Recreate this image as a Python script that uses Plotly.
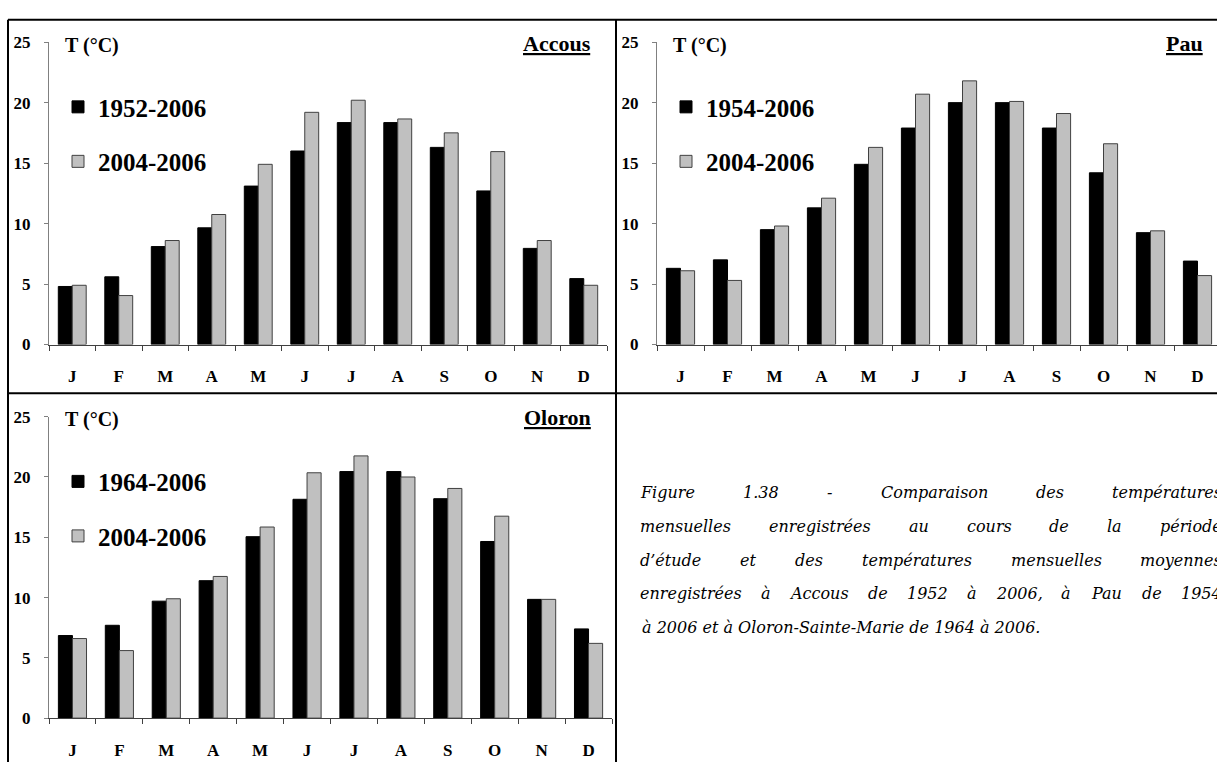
import unicodedata
import plotly.graph_objects as go

W, H = 1217, 772

mois = list(range(12))
lettres_mois = ['J', 'F', 'M', 'A', 'M', 'J', 'J', 'A', 'S', 'O', 'N', 'D']
graduations_y = [0, 5, 10, 15, 20, 25]

stations = ['Accous', 'Pau', 'Oloron']
periodes = ['1952-2006', '1954-2006', '1964-2006']
periode_etude = '2004-2006'

accous_moy = [4.8, 5.6, 8.1, 9.65, 13.1, 16.0, 18.35, 18.35, 16.3, 12.7, 7.95, 5.45]
accous_etude = [4.9, 4.05, 8.6, 10.75, 14.9, 19.2, 20.2, 18.65, 17.5, 15.95, 8.6, 4.9]
pau_moy = [6.3, 7.0, 9.5, 11.3, 14.9, 17.9, 20.0, 20.0, 17.9, 14.2, 9.25, 6.9]
pau_etude = [6.1, 5.3, 9.8, 12.1, 16.3, 20.7, 21.8, 20.1, 19.1, 16.6, 9.4, 5.7]
oloron_moy = [6.85, 7.7, 9.7, 11.4, 15.05, 18.15, 20.45, 20.45, 18.2, 14.65, 9.85, 7.4]
oloron_etude = [6.6, 5.6, 9.9, 11.75, 15.85, 20.35, 21.75, 20.0, 19.05, 16.75, 9.85, 6.2]

legende = [
    "Figure 1.38 - Comparaison des températures",
    "mensuelles enregistrées au cours de la période",
    "d’étude et des températures mensuelles moyennes",
    "enregistrées à Accous de 1952 à 2006, à Pau de 1954",
    "à 2006 et à Oloron-Sainte-Marie de 1964 à 2006.",
]

series_moy = [accous_moy, pau_moy, oloron_moy]
series_etude = [accous_etude, pau_etude, oloron_etude]


def px(x):
    return x / W


def py(y):
    return 1 - y / H


# cadres des graphiques en pixels : gauche, droite, haut (25 °C), bas (0 °C)
cadres = [
    dict(g=49, d=607, h=34, b=344, xmax=11.5),
    dict(g=657, d=1217, h=34, b=344, xmax=-0.5 + 560 / 47),
    dict(g=49, d=612, h=418, b=727, xmax=11.5),
]
titres_x = [593, 1205, 593]

police = 'Liberation Serif'

fig = go.Figure()
annotations = []

for i, station in enumerate(stations):
    suf = '' if i == 0 else str(i + 1)
    leg = 'legend' + suf
    c = cadres[i]

    fig.add_trace(go.Bar(x=mois, y=series_moy[i], name=periodes[i],
                         marker=dict(color='black', line=dict(color='black', width=1)),
                         xaxis='x' + suf, yaxis='y' + suf, legend=leg, legendgroup='a' + suf))
    fig.add_trace(go.Bar(x=mois, y=series_etude[i], name=periode_etude,
                         marker=dict(color='#c0c0c0', line=dict(color='#404040', width=1)),
                         xaxis='x' + suf, yaxis='y' + suf, legend=leg, legendgroup='b' + suf))

    fig.update_layout({
        'xaxis' + suf: dict(domain=[px(c['g']), px(c['d'])], range=[-0.5, c['xmax']],
                            anchor='y' + suf, tickmode='array', tickvals=mois, ticktext=lettres_mois,
                            ticks='', showline=True, linecolor='#404040', linewidth=1,
                            minor=dict(tickmode='linear', tick0=-0.5, dtick=1, ticks='outside',
                                       ticklen=5, tickcolor='#404040', tickwidth=1),
                            tickfont=dict(family=police, size=17, color='black', weight='bold'),
                            ticklabelstandoff=16, showgrid=False, zeroline=False, fixedrange=True),
        'yaxis' + suf: dict(domain=[py(c['b']), py(c['h'])], range=[0, 25], anchor='x' + suf,
                            tickmode='array', tickvals=graduations_y, ticks='outside', ticklen=4,
                            tickcolor='#808080', showline=True, linecolor='#808080', linewidth=1,
                            tickfont=dict(family=police, size=17, color='black', weight='bold'),
                            ticklabelstandoff=10, showgrid=False, zeroline=False, fixedrange=True),
        leg: dict(x=px(c['g'] + 9), y=py(c['h'] + 43), xanchor='left', yanchor='top',
                  bgcolor='rgba(0,0,0,0)', tracegroupgap=19,
                  font=dict(family=police, size=25, color='black', weight='bold')),
    })

    annotations.append(dict(x=px(c['g'] + 14), y=py(c['h'] + 3), xref='paper', yref='paper',
                            text='T (°C)', showarrow=False, xanchor='left', yanchor='middle',
                            font=dict(family=police, size=20, color='black', weight='bold')))
    annotations.append(dict(x=px(titres_x[i]), y=py(c['h'] + 1), xref='paper', yref='paper',
                            text='<u>' + station + '</u>', showarrow=False, xanchor='right',
                            yanchor='middle',
                            font=dict(family=police, size=22, color='black', weight='bold')))

# texte de la légende de figure, justifié
largeurs = dict(a=0.596, b=0.640, c=0.560, d=0.640, e=0.592, f=0.370, g=0.640, h=0.644,
                i=0.320, j=0.320, k=0.600, l=0.320, m=0.948, n=0.644, o=0.602, p=0.640,
                q=0.640, r=0.478, s=0.513, t=0.402, u=0.644, v=0.565, w=0.832, x=0.564,
                y=0.565, z=0.527)


def largeur_mot(mot, taille):
    total = 0
    for ch in mot:
        base = unicodedata.normalize('NFD', ch)[0]
        if base in largeurs:
            total += largeurs[base]
        elif base.isdigit():
            total += 0.636
        elif base.isupper():
            total += 0.74
        elif base == '-':
            total += 0.338
        else:
            total += 0.318
    return total * taille


taille_leg = 16
police_leg = dict(family='DejaVu Serif', size=taille_leg, color='black', style='italic')
gauche, droite = 640, 1222
lignes_y = [496, 530.5, 565, 599.5, 634]

for k, ligne in enumerate(legende):
    if k == len(legende) - 1:
        annotations.append(dict(x=px(gauche), y=py(lignes_y[k]), xref='paper', yref='paper',
                                text=ligne, showarrow=False, xanchor='left', yanchor='middle',
                                font=police_leg))
        continue
    mots = ligne.split(' ')
    larg = [largeur_mot(m, taille_leg) for m in mots]
    espace = (droite - gauche - sum(larg)) / (len(mots) - 1)
    pos = gauche
    for m, l in zip(mots, larg):
        annotations.append(dict(x=px(pos + l / 2), y=py(lignes_y[k]), xref='paper', yref='paper',
                                text=m, showarrow=False, xanchor='center', yanchor='middle',
                                font=police_leg))
        pos += l + espace

# cadres noirs
traits = [(8, 11, 1217, 11), (8, 11, 8, 772), (616, 11, 616, 772), (8, 394, 1217, 394)]
shapes = [dict(type='line', xref='paper', yref='paper', x0=px(a), y0=py(b), x1=px(c2), y1=py(d),
               line=dict(color='black', width=2)) for a, b, c2, d in traits]

fig.update_layout(width=W, height=H, margin=dict(l=0, r=0, t=0, b=0),
                  paper_bgcolor='white', plot_bgcolor='white',
                  barmode='group', bargap=0.4, bargroupgap=0,
                  showlegend=True, annotations=annotations, shapes=shapes)

# page exactement à la taille du graphique
page = ("var s='margin:0;padding:0;overflow:hidden;width:1217px;height:772px';"
        "document.documentElement.style.cssText=s;document.body.style.cssText=s;"
        "var d=document.getElementById('{plot_id}');"
        "d.style.position='absolute';d.style.left='0px';d.style.top='0px';")
fig.write_html("out.html", config={'displayModeBar': False}, post_script=page)
